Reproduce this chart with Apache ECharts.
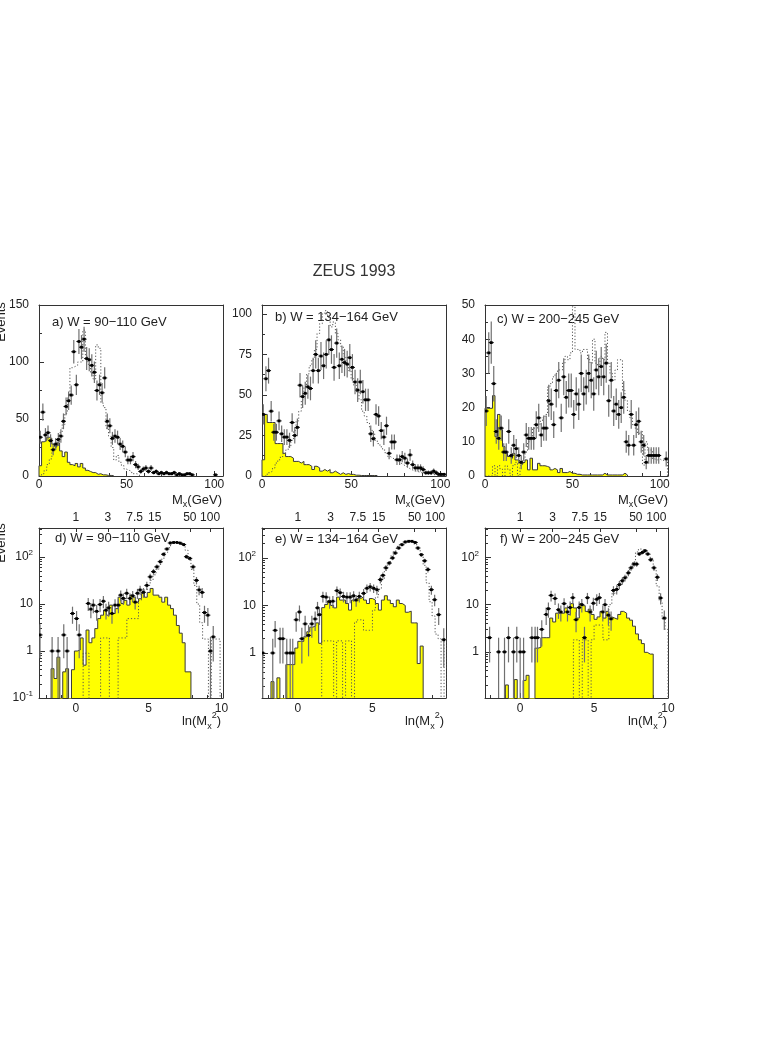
<!DOCTYPE html>
<html><head><meta charset="utf-8">
<script src="https://cdn.jsdelivr.net/npm/echarts@6/dist/echarts.min.js"></script>
<style>html,body{margin:0;padding:0;background:#fff}#c{width:769px;height:1045px}</style>
</head><body><div id="c"></div>
<script>
const FONT = '"Liberation Sans", Arial, Helvetica, sans-serif';
const title = 'ZEUS 1993';
const panelLabels = ['a) W = 90\u2212110 GeV','b) W = 134\u2212164 GeV','c) W = 200\u2212245 GeV',
                     'd) W = 90\u2212110 GeV','e) W = 134\u2212164 GeV','f) W = 200\u2212245 GeV'];

// ---- tick values ----
const upperXTicks = [0, 50, 100];
const upperXMinor = [10, 20, 30, 40, 60, 70, 80, 90];
const aYTicks = [0, 50, 100, 150];      const aYMinor = [25, 75, 125];
const bYTicks = [0, 25, 50, 75, 100];   const bYMinor = [12.5, 37.5, 62.5, 87.5];
const cYTicks = [0, 10, 20, 30, 40, 50]; const cYMinor = [5, 15, 25, 35, 45];
const lowerXTicks = [0, 5, 10];
const lowerXMinor = [-2, -1, 1, 2, 3, 4, 6, 7, 8, 9];
const lowerYTicks = [0.1, 1, 10, 100];
const lowerYMinor = [0.2,0.3,0.4,0.5,0.6,0.7,0.8,0.9,2,3,4,5,6,7,8,9,20,30,40,50,60,70,80,90,200,300,400];
const topMxLabels = [1, 3, 7.5, 15, 50, 100];

// ---- upper panels: bin widths (GeV) ----
const aBinW = 1.47, bBinW = 1.47, cBinW = 1.43;

// panel a : data, errors, yellow histogram, dotted MC
const aY = [34,56,36,38,31,23,28,32,35,48, 61,66,71,109,80,118,113,120,103,102, 97,91,75,80,73,86,48,44,33,35,
            34,28,26,21,14,14,17,10,8,4, 6,7,4,7,3,4,2,3,2,3, 2,2,3,1,2,1,1,2,2,1, 0,0,0,0,0,0,0,0,1];
const aE = [5.8,7.5,6,6.2,5.6,4.8,5.3,5.7,5.9,6.9, 7.8,8.1,8.4,10.4,8.9,10.9,10.6,11,10.1,10.1, 9.8,9.5,8.7,8.9,8.5,9.3,6.9,6.6,5.7,5.9,
            5.8,5.3,5.1,4.6,3.7,3.7,4.1,3.2,2.8,2, 2.4,2.6,2,2.6,1.7,2,1.4,1.7,1.4,1.7, 1.4,1.4,1.7,1,1.4,1,1,1.4,1.4,1, 0,0,0,0,0,0,0,0,1];
const aYel = [9,30,31,34,33,28,26,29,22,17, 21,12,10,9,11,8,11,7,5,4, 3,3,1.5,2,1,1,0.5,0.5,0.3];
const aMC = [0,2,5,10,15,22,25,30,38,45, 55,70,95,96,97,100,100,128,105,98, 90,85,115,112,64,60,42,35,25,14, 18,12,9,6,5,4,2,2,1];

// panel b
const bY = [38,60,65,40,27,27,34,26,24,24, 22,33,25,30,56,49,51,55,54,65, 75,65,74,68,75,84,78,67,82,68,
            72,70,69,73,67,58,53,58,52,47, 47,26,23,38,37,28,24,31,14,21, 21,10,10,12,11,8,13,7,5,5, 5,4,2,2,2,3,2,1,1,1];
const bE = [6.2,7.7,8,6.3,5.2,5.2,5.8,5.1,4.9,4.9, 4.7,5.7,5,5.5,7.5,7,7.1,7.4,7.3,8, 8.7,8,8.6,8.2,8.7,9.2,8.8,8.2,9,8.2,
            8.5,8.4,8.3,8.5,8.2,7.6,7.3,7.6,7.2,6.9, 6.9,5.1,4.8,6.2,6.1,5.3,4.9,5.6,3.7,4.6, 4.6,3.2,3.2,3.5,3.3,2.8,3.6,2.6,2.2,2.2, 2.2,2,1.4,1.4,1.4,1.7,1.4,1,1,1];
const bYel = [10,38,33,33,33,20,20,20,14,12, 12,11,9,9,8,9,7,7,6,4, 6,5,3,4,3,4,2,3,2,1, 2,1,1.5,1,1,0.5,0.5,0.3,0.3,0.3, 0.3,0.3,0.3,0.3];
const bMC = [0,0,2,3,5,8,10,12,14,16, 18,22,28,34,40,47,55,63,68,72, 78,88,94,100,102,98,92,95,88,84,
             80,74,70,65,60,56,52,47,40,37, 33,29,26,22,20,18,16,14,12,11, 10,9,8,7,6,5,4,3.5,3,2.5, 2,2,1.5,1.2,1,0.8,0.6,0.5,0.4,0.4];

// panel c
const cY = [19,36,39,27,13,11,14,7,7,13, 6,9,8,6,4,7,12,11,11,11, 15,17,12,14,14,22,21,15,25,28,
            17,29,23,25,25,18,24,21,30,24, 26,30,28,24,31,29,32,29,33,22, 28,19,21,18,20,23,10,9,18,9, 15,16,10,9,4,6,6,6,6,6, 0,0,5];
const cE = [4.4,6,6.2,5.2,3.6,3.3,3.7,2.6,2.6,3.6, 2.4,3,2.8,2.4,2,2.6,3.5,3.3,3.3,3.3, 3.9,4.1,3.5,3.7,3.7,4.7,4.6,3.9,5,5.3,
            4.1,5.4,4.8,5,5,4.2,4.9,4.6,5.5,4.9, 5.1,5.5,5.3,4.9,5.6,5.4,5.7,5.4,5.7,4.7, 5.3,4.4,4.6,4.2,4.5,4.8,3.2,3,4.2,3, 3.9,4,3.2,3,2,2.4,2.4,2.4,2.4,2.4, 0,0,2.2];
const cYel = [19.8,19.8,19.8,23.5,11.5,18,13.5,8.6,6.6,5.7, 5.2,6.6,4.7,4.5,3.7,4,4.7,1.8,5.2,1.8, 1.8,3.7,3,3,2.8,2.5,1.8,2.2,1.8,1,
              2.2,1,1,1.3,0.8,0.8,0.5,0.5,0.3,0.3, 0.3,0.3,0.3,0.3,0.3,0.3,0.3,0.8,0.3,0.3, 0.3,0.3,0.3,0.3,0.3,0.8,0.3];
const cMC = [0,0,0,3,0,3,2,0,3,2, 0,3,4,0,3,5,7,10,11,14, 14,15,16,17,18,26,27,29,30,31, 31,33,35,34,36,49.5,37,37,36,37,
             37,34,33,40,33,32,35,34,42,33, 30,28,31,34,34,25,22,19,17,15, 14,12.5,13,3.2,10,7.6,7.6,5,4.7,5, 4.5,4.7,4.7];

// ---- lower panels: ln(Mx^2) ----
const lnBinW = 0.2;
// points: [ln(Mx^2), events, error]
const dPts = [[-2.46,2.2,1.5],[-1.63,1,1],[-1.22,1,1],[-0.83,2.2,1.5],[-0.6,1,1],[-0.23,6.3,2.5],[0.05,4.9,2.2],[0.23,2.2,1.5],
  [0.85,10.3,3.2],[1.03,7.8,2.8],[1.2,9.5,3.1],[1.43,7,2.6],[1.66,9.8,3.1],[1.89,11.5,3.4],[2.07,7.4,2.7],[2.25,8.3,2.9],
  [2.48,6.3,2.5],[2.69,9.5,3.1],[2.92,9.5,3.1],[3.08,15.5,3.9],[3.26,13.2,3.6],[3.49,17,4.1],[3.72,13.2,3.6],[3.9,15,3.9],
  [4.07,11,3.3],[4.23,17,4.1],[4.41,20,4.5],[4.64,17.8,4.2],[4.87,25,5],[5.1,38,6.2],[5.33,49,7],[5.56,62,7.9],[5.79,80,8.9],
  [6.02,115,10.7],[6.25,149,12.2],[6.48,200,14],[6.71,205,14],[6.94,205,14],[7.17,198,14],[7.4,185,13.6],[7.59,102,10],
  [7.82,94,9.7],[8.05,62,7.9],[8.28,32,5.7],[8.46,20,4.5],[8.67,17.7,4.2],[8.83,6.6,2.6],[9.06,5.8,2.4],[9.24,1,1],[9.43,2,1.4]];
const dYelStart = -1.7;
const dYel = [0.42,0.26,0.74,0,0.36,0.42,0,0.4,1.0,1.05, 1.9,0.5,2.8,1.5,1.9,3,4.9,5.8,7.4,5.8, 9.5,6.3,8,14,10.3,12,9.5,15.5,14,11,
              13,17,14,17.7,21.5,15.5,15.5,14,11,14, 9.5,8,5.8,3.5,2.4,1.5,0.36,0.36];
const dMCStart = 0.5;
const dMC = [0.9,0.9,0,0,0,0,1.9,1.9,1.9,0, 0,0,1.9,1.9,1.9,4.9,4.9,4.9,4.9,12, 15,20,25,32,42,55,70,95,125,160,
             210,215,210,200,180,140,90,55,25,10, 4,1.8,1.8,0,1.8,1.8,1.8];

const ePts = [[-2.35,1,1],[-1.68,1,1],[-1.52,3,1.7],[-1.19,2,1.4],[-1.0,2,1.4],[-0.74,1,1],[-0.51,1,1],[-0.34,1,1],[-0.11,5,2.2],
  [0.11,7.3,2.7],[0.27,2,1.4],[0.49,4.1,2],[0.72,2.35,1.5],[0.94,4.1,2],[1.16,5.2,2.3],[1.32,8.9,3],[1.45,6.4,2.5],[1.68,15.5,3.9],
  [1.9,15,3.9],[2.13,12,3.5],[2.35,12.3,3.5],[2.62,20.5,4.5],[2.84,18.6,4.3],[3.06,15.5,3.9],[3.29,15,3.9],[3.51,15,3.9],
  [3.74,16,4],[3.91,13,3.6],[4.12,15.5,3.9],[4.41,18,4.2],[4.63,23,4.8],[4.85,24.7,5],[5.08,23,4.8],[5.3,21.5,4.6],[5.53,35,5.9],
  [5.7,43,6.6],[5.9,62,7.9],[6.13,78,8.8],[6.35,100,10],[6.53,127,11.3],[6.76,162,12.7],[6.98,190,13.8],[7.2,217,14.7],
  [7.43,224,15],[7.65,224,15],[7.87,212,14.6],[8.05,162,12.7],[8.28,117,10.8],[8.5,87,9.3],[8.72,57,7.5],[8.95,21.5,4.6],
  [9.17,13.2,3.6],[9.44,6.4,2.5],[9.78,1.9,1.4]];
const eYelStart = -1.8;
const eYel = [0.25,0,0.3,0,0,0.57,0.57,0.57,1.27,1.76, 1.76,2.2,2.8,3.5,3.7,4.3,1.6,9,10.5,12.6, 10,8.9,15,13,13,11,8,13,14,14,
              15,13,11,14,13,11,8,13,16,13, 11,9.4,13,11,10,7.2,7.6,4.3,4.3,0.6, 1.4];
const eMCStart = 1.6;
const eMC = [1.8,1.8,1.8,1.8,0,1.8,1.8,0,1.8,1.8, 0,4.5,5,5,3,3,3,8,15,22, 35,55,80,110,140,175,200,215,225,230,
             220,190,150,110,70,30,12,6,2.5,2, 0,2];

const fPts = [[-2.07,2,1.4],[-1.46,1,1],[-1.06,1,1],[-0.79,2,1.4],[-0.45,1,1],[-0.23,2,1.4],[0,1,1],[0.23,1,1],[0.79,2,1.4],
  [1.01,2,1.4],[1.17,2,1.4],[1.46,3,1.7],[1.76,6.2,2.5],[1.91,8.2,2.9],[2.09,15.7,4],[2.36,13.5,3.7],[2.59,7.8,2.8],[2.75,7,2.6],
  [2.97,10.5,3.2],[3.2,7,2.6],[3.38,8.7,2.9],[3.56,14,3.7],[3.78,4.8,2.2],[3.99,8.7,2.9],[4.17,10,3.2],[4.35,2,1.4],[4.55,14,3.7],
  [4.73,7,2.6],[4.95,10.7,3.3],[5.18,13,3.6],[5.36,14,3.7],[5.59,7,2.6],[5.74,10,3.2],[5.97,6,2.4],[6.15,5,2.2],[6.31,20,4.5],
  [6.53,21,4.6],[6.71,26.5,5.1],[6.91,32,5.7],[7.09,37,6.1],[7.32,47,6.9],[7.5,60,7.7],[7.7,72,8.5],[7.88,72,8.5],[8.06,118,10.9],
  [8.27,127,11.3],[8.45,138,11.7],[8.63,118,10.9],[8.83,89,9.4],[9.05,60,7.7],[9.28,38,6.2],[9.5,13.8,3.7],[9.75,5.2,2.3]];
const fYelStart = -1.0;
const fYel = [0.2,0,0,0.26,0,0,0.25,0.32,0,0, 1.2,1.25,2,2,2,5.2,4.3,6.6,6.6,6.6, 8.5,6.2,10.5,8.5,5.2,10.5,9.5,7.2,8,6.2,
              4.9,5.5,7.2,5.2,7.2,5.5,5.2,4.9,6.2,7.2, 6.6,5.2,4.7,3.5,2.4,1.8,1.5,0.98,0.9,0.9];
const fMCStart = 3.6;
const fMC = [1.8,1.8,0,1.8,1.8,0,1.8,3.7,3.7,3.7, 1.8,1.8,10,17,21,26,30,36,45,60, 80,130,150,145,135,115,95,55,25,12, 5,3];

// ---------------- building ----------------
const LOGFLOOR = 1e-3;
function binPts(vals, errs, w) {
  const out = [];
  for (let i = 0; i < vals.length; i++) {
    if (vals[i] > 0) out.push([(i + 0.5) * w, vals[i], Math.max(vals[i] - errs[i], 0), vals[i] + errs[i]]);
  }
  return out;
}
function listPts(arr) {
  return arr.map(p => [p[0], p[1], Math.max(p[1] - p[2], LOGFLOOR), p[1] + p[2]]);
}
function steps(start, w, vals, floor) {
  const d = [[start, floor]];
  for (let i = 0; i < vals.length; i++) d.push([start + i * w, vals[i] > 0 ? vals[i] : floor]);
  d.push([start + vals.length * w, floor]);
  return d;
}
const topVals = topMxLabels.map(m => Math.log(m * m));
function topFmt(v) {
  for (let i = 0; i < topVals.length; i++) if (Math.abs(topVals[i] - v) < 1e-6) return String(topMxLabels[i]);
  return '';
}
function logFmt(v) {
  if (v < 0.5) return '10{sup|-1}';
  if (v < 5) return '1';
  if (v < 50) return '10';
  return '10{sup|2}';
}

const cfg = [
  {log:false, x:[0,105],   y:[0,150],   yT:aYTicks, yM:aYMinor, pts:binPts(aY,aE,aBinW), yel:steps(0,aBinW,aYel,0), mc:steps(0,aBinW,aMC,0)},
  {log:false, x:[0,103.2], y:[0,105.5], yT:bYTicks, yM:bYMinor, pts:binPts(bY,bE,bBinW), yel:steps(0,bBinW,bYel,0), mc:steps(0,bBinW,bMC,0)},
  {log:false, x:[0,104.7], y:[0,50],    yT:cYTicks, yM:cYMinor, pts:binPts(cY,cE,cBinW), yel:steps(0,cBinW,cYel,0), mc:steps(0,cBinW,cMC,0)},
  {log:true, x:[-2.53,10.1], y:[0.0999,417], pts:listPts(dPts), yel:steps(dYelStart,lnBinW,dYel,LOGFLOOR), mc:steps(dMCStart,lnBinW,dMC,LOGFLOOR)},
  {log:true, x:[-2.4,9.93],  y:[0.113,427],  pts:listPts(ePts), yel:steps(eYelStart,lnBinW,eYel,LOGFLOOR), mc:steps(eMCStart,lnBinW,eMC,LOGFLOOR)},
  {log:true, x:[-2.38,10.0], y:[0.106,418],  pts:listPts(fPts), yel:steps(fYelStart,lnBinW,fYel,LOGFLOOR), mc:steps(fMCStart,lnBinW,fMC,LOGFLOOR)}
];

const layout = [[39,305,184,171],[262,305,184,171],[485,305,183,171],[39,528,184,170],[262,528,184,170],[485,528,183,170]];
const labelPos = [[52,322],[275,317],[497,319],[55,538],[275,539],[500,539]];
const LC = '#333';
const TXT = '#222';

function renderPt(params, api) {
  const x = api.value(0), y = api.value(1), lo = api.value(2), hi = api.value(3);
  const c = api.coord([x, y]);
  const cl = api.coord([x, lo]);
  const ch = api.coord([x, hi]);
  return {type:'group', children:[
    {type:'line', shape:{x1:c[0], y1:cl[1], x2:c[0], y2:ch[1]}, style:{stroke:'#707070', lineWidth:1.2}},
    {type:'line', shape:{x1:c[0]-2.5, y1:c[1], x2:c[0]+2.5, y2:c[1]}, style:{stroke:'#000', lineWidth:1}},
    {type:'rect', shape:{x:c[0]-1.4, y:c[1]-1.4, width:2.8, height:2.8}, style:{fill:'#000'}}
  ]};
}

const grid = [], xAxis = [], yAxis = [], series = [];
cfg.forEach((c, p) => {
  const L = layout[p];
  grid.push({left:L[0], top:L[1], width:L[2], height:L[3]});
  const xT = c.log ? lowerXTicks : upperXTicks;
  const xM = c.log ? lowerXMinor : upperXMinor;
  const xc = {gridIndex:p, type:'value', min:c.x[0], max:c.x[1], splitLine:{show:false}};
  const lineOn = {show:true, onZero:false, lineStyle:{color:LC, width:1}};
  const lineOff = {show:false, onZero:false};
  xAxis.push(Object.assign({}, xc, {position:'bottom', axisLine:lineOn,
    axisTick:{show:true, inside:true, length:5, customValues:xT, lineStyle:{color:LC}},
    axisLabel:{show:true, customValues:xT, margin:c.log?5:3, fontSize:12, color:TXT, fontFamily:FONT}}));
  xAxis.push(Object.assign({}, xc, {position:'bottom', axisLine:lineOff,
    axisTick:{show:true, inside:true, length:3, customValues:xM, lineStyle:{color:LC}}, axisLabel:{show:false}}));
  xAxis.push(Object.assign({}, xc, {position:'top', axisLine:lineOn,
    axisTick: c.log ? {show:true, inside:true, length:4, customValues:topVals, lineStyle:{color:LC}} : {show:false},
    axisLabel: c.log ? {show:true, customValues:topVals, margin:4, fontSize:12, color:TXT, fontFamily:FONT, formatter:topFmt} : {show:false}}));

  const yc = c.log ? {gridIndex:p, type:'log', logBase:10, min:c.y[0], max:c.y[1], splitLine:{show:false}}
                   : {gridIndex:p, type:'value', min:c.y[0], max:c.y[1], splitLine:{show:false}};
  const yT = c.log ? lowerYTicks : c.yT;
  const yM = c.log ? lowerYMinor : c.yM;
  const yLab = {show:true, customValues:yT, margin:c.log?6:10, fontSize:12, color:TXT, fontFamily:FONT};
  if (c.log) {
    yLab.formatter = logFmt;
    yLab.lineHeight = 16;
    yLab.rich = {sup:{fontSize:8, lineHeight:8, verticalAlign:'top', color:TXT, fontFamily:FONT}};
  }
  yAxis.push(Object.assign({}, yc, {position:'left', axisLine:lineOn,
    axisTick:{show:true, inside:true, length:c.log?6:5, customValues:yT, lineStyle:{color:LC}}, axisLabel:yLab}));
  yAxis.push(Object.assign({}, yc, {position:'left', axisLine:lineOff,
    axisTick:{show:true, inside:true, length:3, customValues:yM, lineStyle:{color:LC}}, axisLabel:{show:false}}));
  yAxis.push(Object.assign({}, yc, {position:'right', axisLine:lineOn, axisTick:{show:false}, axisLabel:{show:false}}));

  const xi = 3 * p, yi = 3 * p;
  series.push({type:'line', xAxisIndex:xi, yAxisIndex:yi, data:c.yel, step:'end', symbol:'none', silent:true,
    lineStyle:{color:'#3a3a3a', width:1}, areaStyle:{color:'#ffff00', opacity:1, origin:'start'}, z:2, clip:true});
  series.push({type:'line', xAxisIndex:xi, yAxisIndex:yi, data:c.mc, step:'end', symbol:'none', silent:true,
    lineStyle:{color:'#555', width:1, type:[1.2,2]}, z:3, clip:true});
  series.push({type:'custom', xAxisIndex:xi, yAxisIndex:yi, data:c.pts, renderItem:renderPt, silent:true,
    encode:{x:0, y:1}, z:4, clip:true});
});

const tfont = '13px ' + FONT;
const graphic = [
  {type:'text', x:354, y:272, style:{text:title, font:'16px ' + FONT, fill:'#333', textAlign:'center', textVerticalAlign:'middle'}},
  {type:'text', x:1, y:322, rotation:Math.PI/2, style:{text:'Events', font:tfont, fill:TXT, textAlign:'center', textVerticalAlign:'middle'}},
  {type:'text', x:1, y:543, rotation:Math.PI/2, style:{text:'Events', font:tfont, fill:TXT, textAlign:'center', textVerticalAlign:'middle'}}
];
panelLabels.forEach((t, i) => {
  graphic.push({type:'text', x:labelPos[i][0], y:labelPos[i][1],
    style:{text:t, font:tfont, fill:TXT, textAlign:'left', textVerticalAlign:'middle'}});
});
const mxRight = [222, 445, 668];
mxRight.forEach(xr => {
  graphic.push({type:'text', x:xr, y:500, style:{text:'M{sub|x}(GeV)', font:tfont, fill:TXT, lineHeight:18,
    textAlign:'right', textVerticalAlign:'middle',
    rich:{sub:{fontSize:9, lineHeight:9, verticalAlign:'bottom', fill:TXT, fontFamily:FONT}}}});
  graphic.push({type:'text', x:xr - 1, y:721, style:{text:'ln(M{sub|x}{sup|2})', font:tfont, fill:TXT, lineHeight:20,
    textAlign:'right', textVerticalAlign:'middle',
    rich:{sub:{fontSize:9, lineHeight:9, verticalAlign:'bottom', fill:TXT, fontFamily:FONT},
          sup:{fontSize:9, lineHeight:9, verticalAlign:'top', fill:TXT, fontFamily:FONT}}}});
});

const chart = echarts.init(document.getElementById('c'), null, {renderer:'canvas'});
chart.setOption({backgroundColor:'#fff', animation:false, grid, xAxis, yAxis, series, graphic});
</script></body></html>
